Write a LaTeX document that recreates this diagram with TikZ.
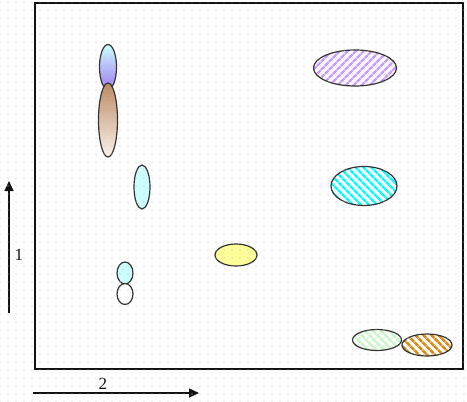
\documentclass[tikz,border=0pt]{standalone}
\usepackage{fontspec}
\setmainfont{Liberation Serif}
\usetikzlibrary{arrows.meta,shapes.geometric,patterns.meta}
\definecolor{ink}{HTML}{111111}
\definecolor{rim}{HTML}{333333}
\definecolor{gridgray}{HTML}{BDBDBD}
\definecolor{icecyan}{HTML}{CCFFFF}
\definecolor{lilac}{HTML}{A07AF2}
\definecolor{tan}{HTML}{BC8A62}
\definecolor{cream}{HTML}{FBF3EC}
\definecolor{butter}{HTML}{FFFF99}
\definecolor{violetline}{HTML}{CC99FF}
\definecolor{cyanline}{HTML}{00FFFF}
\definecolor{mintline}{HTML}{C6F7C6}
\definecolor{orangeline}{HTML}{D88A14}
\tikzset{
  >={Triangle[length=10pt,width=9pt]},
  every node/.style={text=ink},
  blob/.style={ellipse,draw=rim,line width=1.2pt,inner sep=0pt},
  plain/.style={blob,fill=#1},
  fade/.style 2 args={blob,top color=#1,bottom color=#2},
  hatch/.style 2 args={blob,preaction={fill=white},pattern={Lines[angle=#2,distance=5.4pt,line width=2.7pt]},pattern color=#1},
  axis/.style={->,line width=1.3pt,draw=ink},
  axislabel/.style={font=\fontsize{17}{17}\selectfont,inner sep=0pt}
}
\begin{document}
\begin{tikzpicture}[x=1pt,y=-1pt]
  \useasboundingbox[fill=white] (0,0) rectangle (467,402);

  % plot frame
  \draw[line width=1.3pt,draw=ink] (35,3) rectangle (463,369);

  % left column
  \node[fade={icecyan}{lilac},minimum width=17pt,minimum height=45pt] (capsule) at (108,67) {};
  \node[fade={tan}{cream},minimum width=19pt,minimum height=74pt] (spindle) at (108,120) {};
  \node[plain=icecyan,minimum width=16pt,minimum height=44pt] (drop) at (142,187) {};
  \node[plain=icecyan,minimum width=16pt,minimum height=22pt] (beadtop) at (125,273) {};
  \node[plain=white,minimum width=16pt,minimum height=21pt] (beadlow) at (125,294) {};
  \node[plain=butter,minimum width=42pt,minimum height=22pt] (lemon) at (236,255) {};

  % right column, hatched
  \node[hatch={violetline}{45},minimum width=83pt,minimum height=36pt] (violetegg) at (355,68) {};
  \node[hatch={cyanline}{-45},minimum width=66pt,minimum height=39pt] (cyanegg) at (364,186) {};
  \node[hatch={mintline}{-45},minimum width=49pt,minimum height=21pt] (mintegg) at (377,340) {};
  \node[hatch={orangeline}{-45},minimum width=50pt,minimum height=22pt] (orangeegg) at (427,345) {};

  % axes
  \coordinate (ylow) at (9,313);
  \coordinate (yhigh) at (9,181);
  \coordinate (xleft) at (33,393);
  \coordinate (xright) at (199,393);
  \draw[axis] (ylow) -- (yhigh);
  \draw[axis] (xleft) -- (xright);
  \node[axislabel] (ytag) at (19,255) {1};
  \node[axislabel] (xtag) at (103,384) {2};

  % snap grid
  \path[pattern={Dots[distance=8pt,radius=0.55pt]},pattern color=gridgray] (0,0) rectangle (467,402);
\end{tikzpicture}
\end{document}
